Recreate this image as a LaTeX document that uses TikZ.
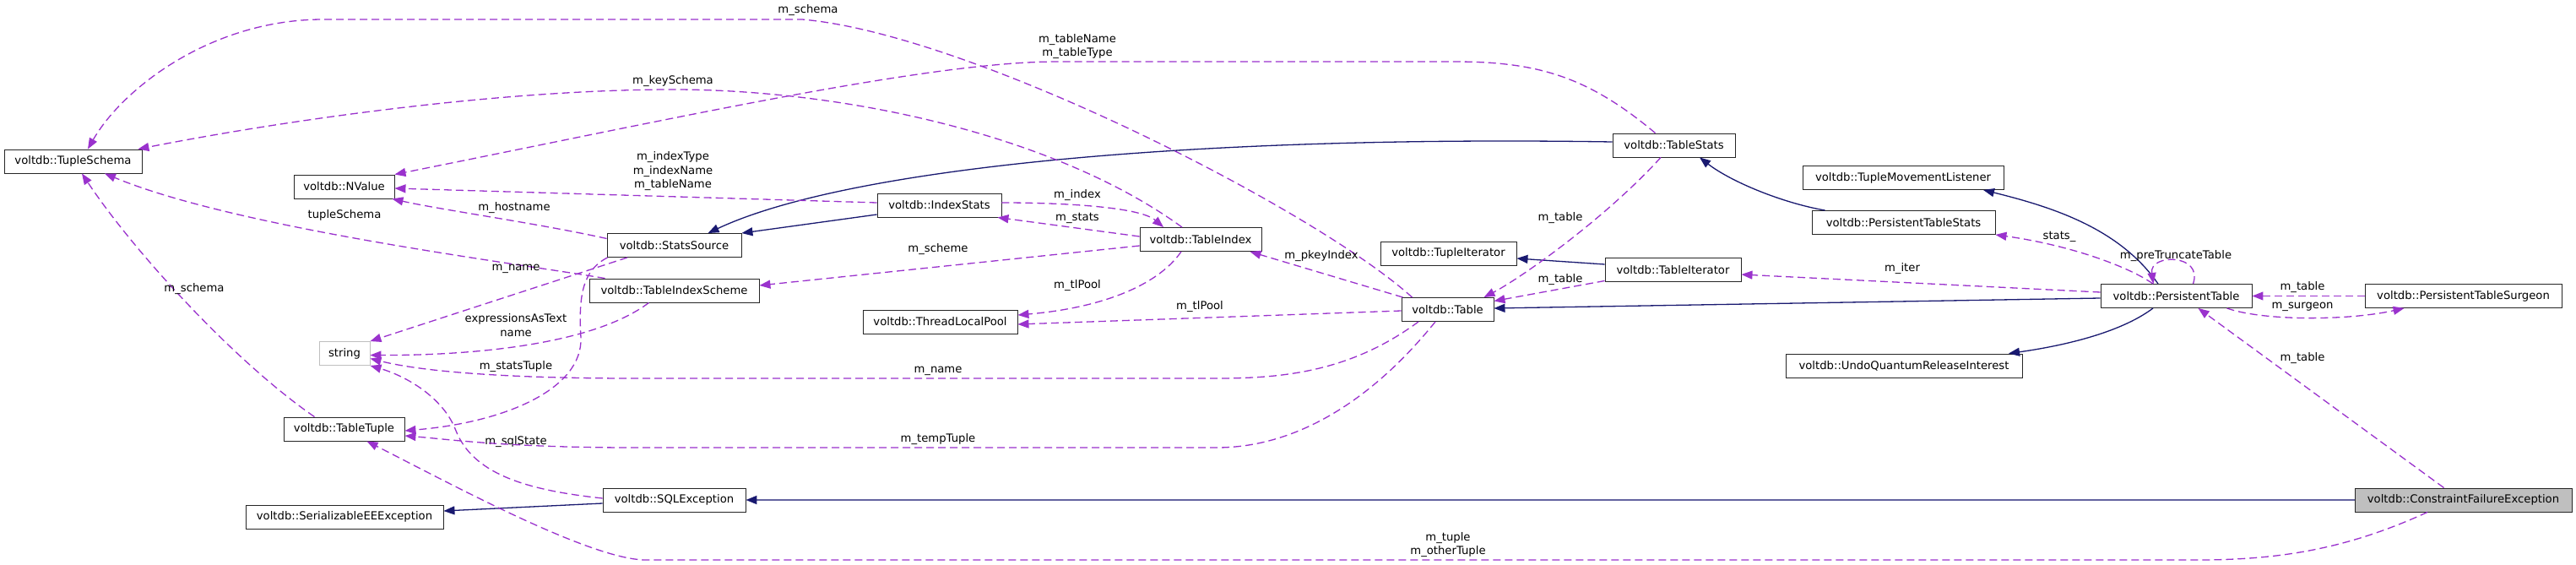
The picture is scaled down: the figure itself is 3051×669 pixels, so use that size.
\documentclass[tikz,border=0pt]{standalone}
\usepackage{fontspec}
\newfontfamily\dvs{DejaVu Sans}
\usetikzlibrary{arrows.meta}
\definecolor{orch}{HTML}{9A32CD}
\definecolor{mnb}{HTML}{191970}
\definecolor{gbox}{HTML}{BFBFBF}
\definecolor{lnb}{RGB}{100,100,160}
\newcommand\dfnt{\dvs\fontsize{13.2}{16.5}\selectfont}
\begin{document}
\begin{tikzpicture}[x=1pt,y=-1pt,
 box/.style={draw=black!85,line width=0.9pt,fill=white,minimum height=28pt,inner sep=0pt,font=\dfnt},
 inh/.style={draw=mnb,line width=1.3pt,-{Triangle[length=13pt,width=10pt]}},
 use/.style={draw=orch,line width=1.3pt,dash pattern=on 9pt off 5pt,-{Triangle[length=13pt,width=10pt]}},
 lbl/.style={font=\dfnt,inner sep=0pt,align=center}]
\useasboundingbox[fill=white] (0,0) rectangle (3051,669);

% nodes
\node[box,minimum width=163pt] (ts) at (86.5,191) {voltdb::TupleSchema};
\node[box,minimum width=119pt] (nv) at (407.5,221) {voltdb::NValue};
\node[box,minimum width=159pt] (ss) at (798.5,290.5) {voltdb::StatsSource};
\node[box,minimum width=201pt] (tis) at (798.5,344) {voltdb::TableIndexScheme};
\node[box,draw=gbox,minimum width=60pt] (str) at (408,418.5) {string};
\node[box,minimum width=143pt] (tt) at (407.5,508) {voltdb::TableTuple};
\node[box,minimum width=169pt] (sql) at (798.5,592) {voltdb::SQLException};
\node[box,minimum width=234pt] (see) at (408,612) {voltdb::SerializableEEException};
\node[box,minimum width=147pt] (is) at (1112.5,243) {voltdb::IndexStats};
\node[box,minimum width=144pt] (ti) at (1422,283.5) {voltdb::TableIndex};
\node[box,minimum width=145pt] (tst) at (1982.5,172) {voltdb::TableStats};
\node[box,minimum width=161pt] (tui) at (1715.5,300) {voltdb::TupleIterator};
\node[box,minimum width=161pt] (tit) at (1981.5,319.5) {voltdb::TableIterator};
\node[box,minimum width=183pt] (tlp) at (1113.5,381) {voltdb::ThreadLocalPool};
\node[box,minimum width=109pt] (tbl) at (1714.5,366.5) {voltdb::Table};
\node[box,minimum width=238pt] (tml) at (2254,210.5) {voltdb::TupleMovementListener};
\node[box,minimum width=217pt] (pts) at (2254.5,263.5) {voltdb::PersistentTableStats};
\node[box,minimum width=179pt] (pt) at (2577.5,350.5) {voltdb::PersistentTable};
\node[box,minimum width=233pt] (sur) at (2917.5,350.5) {voltdb::PersistentTableSurgeon};
\node[box,minimum width=280pt] (uq) at (2255,433) {voltdb::UndoQuantumReleaseInterest};
\node[box,fill=gbox,minimum width=257pt] (cfe) at (2917.5,592) {voltdb::ConstraintFailureException};

% inheritance
\draw[inh] ([yshift=-11pt]is.west) -- (ss.north east);
\draw[inh] ([yshift=4pt]tst.west) .. controls (1400,160) and (1000,200) .. ([xshift=40pt]ss.north);
\draw[inh] ([yshift=6.5pt]tit.west) -- ([yshift=-6pt]tui.east);
\draw[inh] ([xshift=-93pt]pts.north) .. controls (2110,240) and (2050,215) .. ([xshift=30.5pt]tst.south);
\draw[inh] ([xshift=-21.5pt]pt.north) .. controls (2510,270) and (2430,245) .. ([xshift=95pt]tml.south);
\draw[inh] ([yshift=-2.5pt]pt.west) -- ([yshift=1.5pt]tbl.east);
\draw[inh] ([xshift=-27.5pt]pt.south) .. controls (2510,395) and (2440,410) .. ([xshift=124pt]uq.north);
\draw[inh,draw=lnb,line width=2pt,-{Triangle[length=13pt,width=10pt,color=mnb]}] (cfe.west) -- (sql.east);
\draw[inh] ([yshift=-4pt]sql.west) -- ([yshift=7pt]see.east);

% usage
\draw[use] ([xshift=-42pt]tbl.north) .. controls (1560,250) and (1150,40) .. (950,23) -- (383,23)
  .. controls (250,23) and (145,105) .. ([xshift=17.5pt]ts.north);
\node[lbl] (l1) at (957,12) {m\_schema};
\draw[use] ([xshift=-35pt]tt.north) .. controls (280,430) and (160,300) .. ([xshift=10.5pt]ts.south);
\node[lbl] (l2) at (230,342) {m\_schema};
\draw[use] ([xshift=-22pt]ti.north) .. controls (1250,160) and (1000,106) .. (797,106)
  .. controls (600,106) and (350,140) .. ([xshift=-5pt]ts.north east);
\node[lbl] (l3) at (797,96) {m\_keySchema};
\draw[use] ([xshift=-22pt]tst.north) .. controls (1880,90) and (1820,73) .. (1722,73) -- (1252,73)
  .. controls (1100,73) and (800,140) .. (nv.north east);
\node[lbl] (l4) at (1276,55) {m\_tableName\\m\_tableType};
\draw[use] ([yshift=3pt]is.west) -- ([yshift=-2pt]nv.east);
\node[lbl] (l5) at (797,203) {m\_indexType\\m\_indexName\\m\_tableName};
\draw[use] ([yshift=8pt]ss.west) .. controls (640,265) and (520,248) .. ([xshift=-3pt]nv.south east);
\node[lbl] (l6) at (609,246) {m\_hostname};
\draw[use] ([xshift=19pt]tis.north west) .. controls (600,310) and (280,270) .. ([xshift=37.5pt]ts.south);
\node[lbl] (l7) at (408,255) {tupleSchema};
\draw[use] ([yshift=3pt]is.east) .. controls (1260,240) and (1350,245) .. ([xshift=-44pt]ti.north);
\node[lbl] (l8) at (1276,231) {m\_index};
\draw[use] ([yshift=3.5pt]ti.west) -- ([xshift=-5pt]is.south east);
\node[lbl] (l9) at (1276,258) {m\_stats};
\draw[use] ([yshift=-7.5pt]ti.west) -- ([yshift=6pt]tis.east);
\node[lbl] (l10) at (1111,295) {m\_scheme};
\draw[use] ([xshift=-55.5pt]ss.south) -- (str.north east);
\node[lbl] (l11) at (611,318) {m\_name};
\draw[use] ([xshift=-30pt]tis.south) .. controls (700,410) and (550,421) .. ([yshift=-2pt]str.east);
\node[lbl] (l12) at (611,385) {expressionsAsText\\name};
\draw[use] ([xshift=-34.5pt]tbl.south) .. controls (1600,440) and (1520,448) .. (1441,448) -- (750,448)
  .. controls (600,448) and (500,440) .. ([yshift=-6pt]str.east);
\node[lbl] (l13) at (1111,439) {m\_name};
\draw[use] ([xshift=1pt]ss.south west) .. controls (690,320) and (685,350) .. (688,400)
  .. controls (690,460) and (600,500) .. ([yshift=-2pt]tt.east);
\node[lbl] (l14) at (611,434) {m\_statsTuple};
\draw[use] ([yshift=2pt]sql.west) .. controls (620,580) and (560,560) .. (540,510)
  .. controls (525,470) and (480,445) .. (str.south east);
\node[lbl] (l15) at (611,523) {m\_sqlState};
\draw[use] ([xshift=-14.5pt]tbl.south) .. controls (1620,480) and (1530,530) .. (1441,530) -- (750,530)
  .. controls (600,530) and (530,520) .. ([yshift=-8pt]tt.east);
\node[lbl] (l16) at (1111,520) {m\_tempTuple};
\draw[use] ([xshift=-42.5pt]cfe.south) .. controls (2780,650) and (2700,663) .. (2603,663) -- (765,663)
  .. controls (700,663) and (534,573) .. ([xshift=27pt]tt.south);
\node[lbl] (l17) at (1715,645) {m\_tuple\\m\_otherTuple};
\draw[use] ([xshift=-23pt]ti.south) .. controls (1370,340) and (1300,365) .. ([yshift=8pt]tlp.east);
\node[lbl] (l18) at (1276,338) {m\_tlPool};
\draw[use] ([yshift=-1.5pt]tbl.west) -- ([yshift=-3pt]tlp.east);
\node[lbl] (l19) at (1421,363) {m\_tlPool};
\draw[use] ([xshift=2pt]tbl.north west) -- ([xshift=-14pt]ti.south east);
\node[lbl] (l20) at (1565,303) {m\_pkeyIndex};
\draw[use] ([xshift=-15.5pt]tst.south) .. controls (1900,260) and (1800,330) .. ([xshift=-12pt]tbl.north east);
\node[lbl] (l21) at (1848,258) {m\_table};
\draw[use] ([yshift=-13pt]tit.west) -- ([yshift=10pt]tbl.east);
\node[lbl] (l22) at (1848,331) {m\_table};
\draw[use] ([yshift=4.5pt]pt.west) -- ([yshift=-5.5pt]tit.east);
\node[lbl] (l23) at (2253,318) {m\_iter};
\draw[use] ([xshift=-27.5pt]pt.north) .. controls (2520,315) and (2450,290) .. (pts.south east);
\node[lbl] (l24) at (2439,280) {stats\_};
\draw[use] ([xshift=20pt]pt.north) .. controls (2610,300) and (2545,300) .. ([xshift=-27pt]pt.north);
\node[lbl] (l25) at (2577,303) {m\_preTruncateTable};
\draw[use] (sur.west) -- (pt.east);
\node[lbl] (l26) at (2727,340) {m\_table};
\draw[use] ([xshift=-30pt]pt.south east) .. controls (2680,380) and (2780,380) .. ([xshift=-70pt]sur.south);
\node[lbl] (l27) at (2727,363) {m\_surgeon};
\draw[use] ([xshift=-23pt]cfe.north) -- ([xshift=26pt]pt.south);
\node[lbl] (l28) at (2727,424) {m\_table};
\end{tikzpicture}
\end{document}
